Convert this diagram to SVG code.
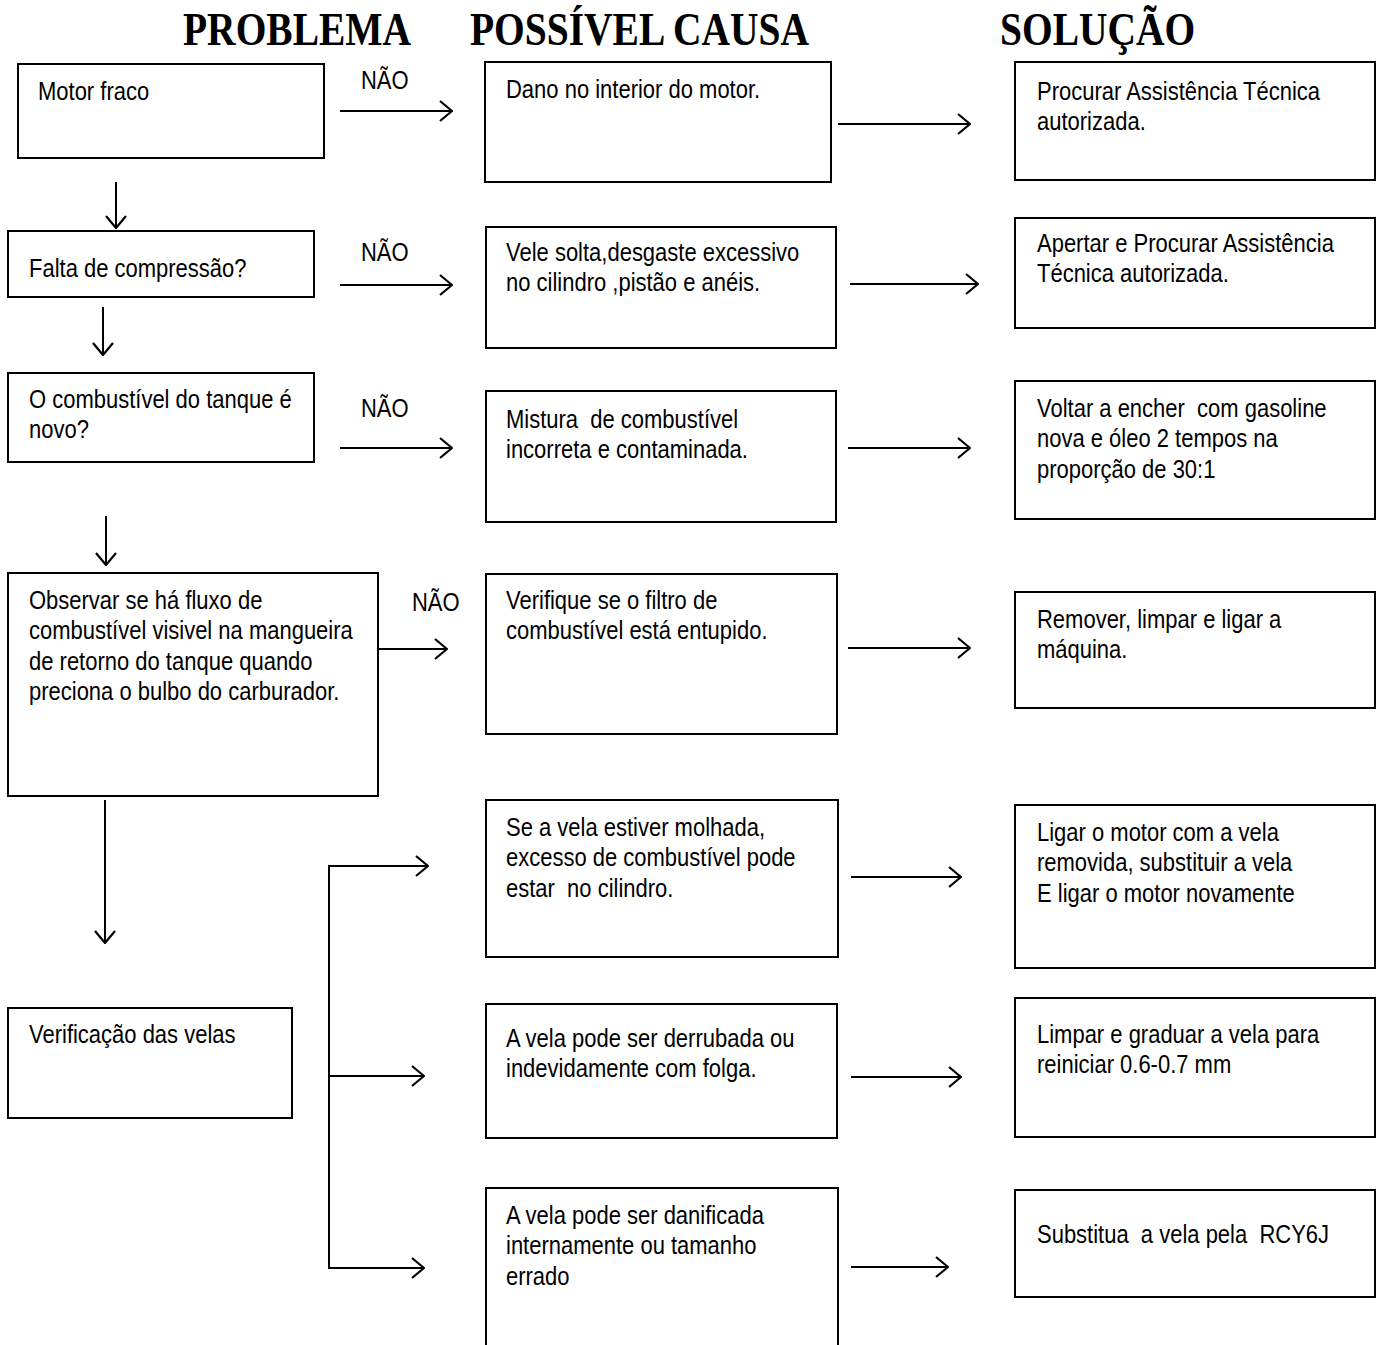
<svg xmlns="http://www.w3.org/2000/svg" width="1379" height="1345" viewBox="0 0 1379 1345">
<style>
.box{fill:#fff;stroke:#000;stroke-width:2}
.t{font-family:"Liberation Sans",Arial,sans-serif;font-size:22px;fill:#000;white-space:pre}
.h{font-family:"Liberation Serif","Times New Roman",serif;font-size:39.5px;font-weight:bold;fill:#000}
.c{fill:none;stroke:#000;stroke-width:2}
.a{fill:none;stroke:#000;stroke-width:2;marker-end:url(#ah)}
</style>
<defs>
<marker id="ah" markerUnits="userSpaceOnUse" viewBox="0 0 14 22" refX="13" refY="11" markerWidth="14" markerHeight="22" orient="auto">
<path d="M1,1 L13,11 L1,21" fill="none" stroke="#000" stroke-width="2.2"/>
</marker>
</defs>
<rect width="1379" height="1345" fill="#fff"/>
<g id="titles">
<text class="h" transform="matrix(1 0 0 1.15 183 45)">PROBLEMA</text>
<text class="h" transform="matrix(1 0 0 1.15 470 45)">POSSÍVEL CAUSA</text>
<text class="h" transform="matrix(1 0 0 1.15 1000 45)">SOLUÇÃO</text>
</g>
<g id="connectors">
<line class="a" x1="116" y1="182" x2="116" y2="228"/>
<line class="a" x1="103" y1="307" x2="103" y2="355"/>
<line class="a" x1="106" y1="516" x2="106" y2="565"/>
<line class="a" x1="105" y1="800" x2="105" y2="943"/>
<line class="a" x1="340" y1="111" x2="452" y2="111"/>
<line class="a" x1="340" y1="285" x2="452" y2="285"/>
<line class="a" x1="340" y1="448" x2="452" y2="448"/>
<line class="a" x1="378" y1="649" x2="447" y2="649"/>
<line class="a" x1="838" y1="124" x2="970" y2="124"/>
<line class="a" x1="850" y1="284" x2="978" y2="284"/>
<line class="a" x1="848" y1="448" x2="970" y2="448"/>
<line class="a" x1="848" y1="648" x2="970" y2="648"/>
<line class="a" x1="851" y1="877" x2="961" y2="877"/>
<line class="a" x1="851" y1="1077" x2="961" y2="1077"/>
<line class="a" x1="851" y1="1267" x2="948" y2="1267"/>
<line class="c" x1="329" y1="866" x2="329" y2="1268"/>
<line class="a" x1="328" y1="866" x2="428" y2="866"/>
<line class="a" x1="328" y1="1076" x2="424" y2="1076"/>
<line class="a" x1="328" y1="1268" x2="424" y2="1268"/>
<text class="t" transform="matrix(1 0 0 1.15 361 89)">NÃO</text>
<text class="t" transform="matrix(1 0 0 1.15 361 261)">NÃO</text>
<text class="t" transform="matrix(1 0 0 1.15 361 417)">NÃO</text>
<text class="t" transform="matrix(1 0 0 1.15 412 611)">NÃO</text>
</g>
<g id="p1"><rect class="box" x="18" y="64" width="306" height="94"/>
<text class="t" transform="matrix(1 0 0 1.15 38 100)">Motor fraco</text></g>
<g id="p2"><rect class="box" x="8" y="231" width="306" height="66"/>
<text class="t" transform="matrix(1 0 0 1.15 29 277)">Falta de compressão?</text></g>
<g id="p3"><rect class="box" x="8" y="373" width="306" height="89"/>
<text class="t" transform="matrix(1 0 0 1.15 29 408)"><tspan x="0" y="0">O combustível do tanque é</tspan><tspan x="0" dy="26.5">novo?</tspan></text></g>
<g id="p4"><rect class="box" x="8" y="573" width="370" height="223"/>
<text class="t" transform="matrix(1 0 0 1.15 29 609)"><tspan x="0" y="0">Observar se há fluxo de</tspan><tspan x="0" dy="26.5">combustível visivel na mangueira</tspan><tspan x="0" dy="26.5">de retorno do tanque quando</tspan><tspan x="0" dy="26.5">preciona o bulbo do carburador.</tspan></text></g>
<g id="p5"><rect class="box" x="8" y="1008" width="284" height="110"/>
<text class="t" transform="matrix(1 0 0 1.15 29 1043)">Verificação das velas</text></g>
<g id="c1"><rect class="box" x="485" y="62" width="346" height="120"/>
<text class="t" transform="matrix(1 0 0 1.15 506 98)">Dano no interior do motor.</text></g>
<g id="c2"><rect class="box" x="486" y="227" width="350" height="121"/>
<text class="t" transform="matrix(1 0 0 1.15 506 261)"><tspan x="0" y="0">Vele solta,desgaste excessivo</tspan><tspan x="0" dy="26.5">no cilindro ,pistão e anéis.</tspan></text></g>
<g id="c3"><rect class="box" x="486" y="391" width="350" height="131"/>
<text class="t" transform="matrix(1 0 0 1.15 506 428)"><tspan x="0" y="0">Mistura  de combustível</tspan><tspan x="0" dy="26.5">incorreta e contaminada.</tspan></text></g>
<g id="c4"><rect class="box" x="486" y="574" width="351" height="160"/>
<text class="t" transform="matrix(1 0 0 1.15 506 609)"><tspan x="0" y="0">Verifique se o filtro de</tspan><tspan x="0" dy="26.5">combustível está entupido.</tspan></text></g>
<g id="c5"><rect class="box" x="486" y="800" width="352" height="157"/>
<text class="t" transform="matrix(1 0 0 1.15 506 836)"><tspan x="0" y="0">Se a vela estiver molhada,</tspan><tspan x="0" dy="26.5">excesso de combustível pode</tspan><tspan x="0" dy="26.5">estar  no cilindro.</tspan></text></g>
<g id="c6"><rect class="box" x="486" y="1004" width="351" height="134"/>
<text class="t" transform="matrix(1 0 0 1.15 506 1047)"><tspan x="0" y="0">A vela pode ser derrubada ou</tspan><tspan x="0" dy="26.5">indevidamente com folga.</tspan></text></g>
<g id="c7"><rect class="box" x="486" y="1188" width="352" height="170"/>
<text class="t" transform="matrix(1 0 0 1.15 506 1224)"><tspan x="0" y="0">A vela pode ser danificada</tspan><tspan x="0" dy="26.5">internamente ou tamanho</tspan><tspan x="0" dy="26.5">errado</tspan></text></g>
<g id="s1"><rect class="box" x="1015" y="62" width="360" height="118"/>
<text class="t" transform="matrix(1 0 0 1.15 1037 100)"><tspan x="0" y="0">Procurar Assistência Técnica</tspan><tspan x="0" dy="26.5">autorizada.</tspan></text></g>
<g id="s2"><rect class="box" x="1015" y="218" width="360" height="110"/>
<text class="t" transform="matrix(1 0 0 1.15 1037 252)"><tspan x="0" y="0">Apertar e Procurar Assistência</tspan><tspan x="0" dy="26.5">Técnica autorizada.</tspan></text></g>
<g id="s3"><rect class="box" x="1015" y="381" width="360" height="138"/>
<text class="t" transform="matrix(1 0 0 1.15 1037 417)"><tspan x="0" y="0">Voltar a encher  com gasoline</tspan><tspan x="0" dy="26.5">nova e óleo 2 tempos na</tspan><tspan x="0" dy="26.5">proporção de 30:1</tspan></text></g>
<g id="s4"><rect class="box" x="1015" y="592" width="360" height="116"/>
<text class="t" transform="matrix(1 0 0 1.15 1037 628)"><tspan x="0" y="0">Remover, limpar e ligar a</tspan><tspan x="0" dy="26.5">máquina.</tspan></text></g>
<g id="s5"><rect class="box" x="1015" y="805" width="360" height="163"/>
<text class="t" transform="matrix(1 0 0 1.15 1037 841)"><tspan x="0" y="0">Ligar o motor com a vela</tspan><tspan x="0" dy="26.5">removida, substituir a vela</tspan><tspan x="0" dy="26.5">E ligar o motor novamente</tspan></text></g>
<g id="s6"><rect class="box" x="1015" y="998" width="360" height="139"/>
<text class="t" transform="matrix(1 0 0 1.15 1037 1043)"><tspan x="0" y="0">Limpar e graduar a vela para</tspan><tspan x="0" dy="26.5">reiniciar 0.6-0.7 mm</tspan></text></g>
<g id="s7"><rect class="box" x="1015" y="1190" width="360" height="107"/>
<text class="t" transform="matrix(1 0 0 1.15 1037 1243)">Substitua  a vela pela  RCY6J</text></g>
</svg>
